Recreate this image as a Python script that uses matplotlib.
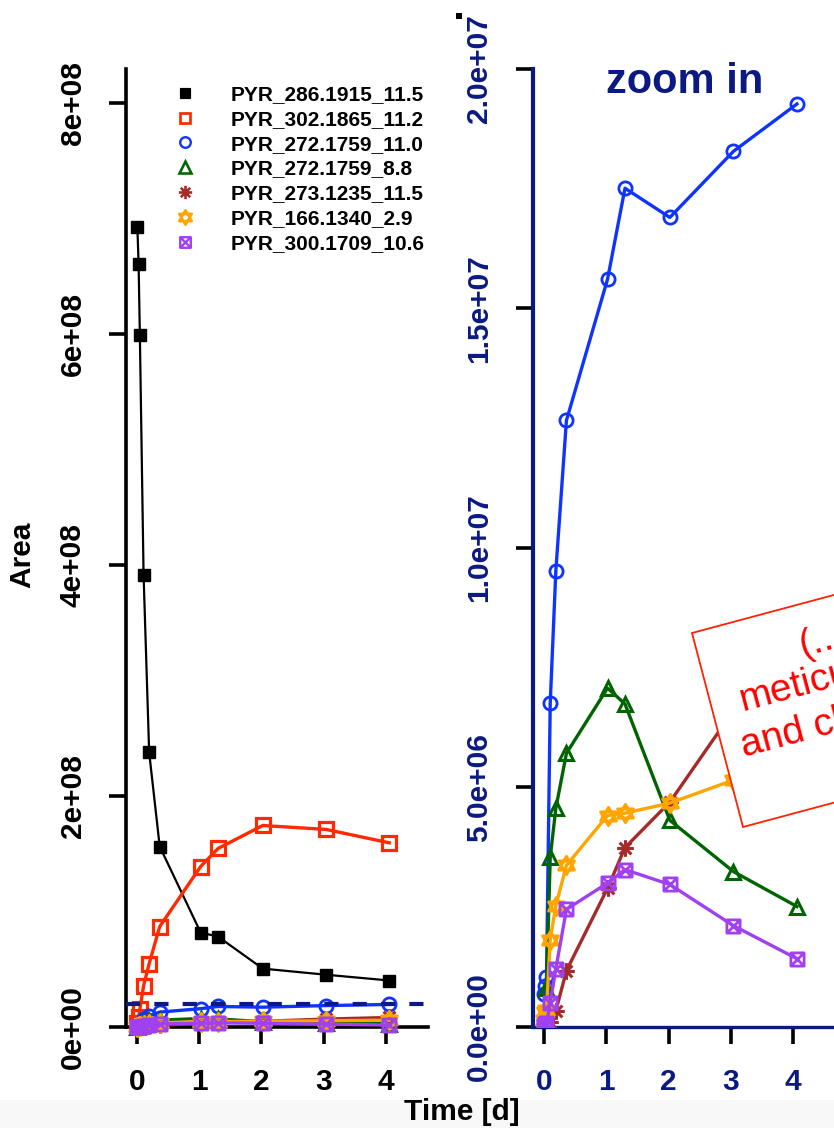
import matplotlib
matplotlib.use('Agg')
import matplotlib.pyplot as plt
from matplotlib.path import Path
from matplotlib.markers import MarkerStyle
from matplotlib.lines import Line2D
from matplotlib.patches import Polygon, Rectangle
from matplotlib.font_manager import FontProperties
import numpy as np

# ---------------- data ----------------
time_d = [0.0, 0.02, 0.04, 0.10, 0.19, 0.36, 1.02, 1.30, 2.02, 3.04, 4.06]

series_names = ["PYR_286.1915_11.5", "PYR_302.1865_11.2", "PYR_272.1759_11.0",
                "PYR_272.1759_8.8", "PYR_273.1235_11.5", "PYR_166.1340_2.9",
                "PYR_300.1709_10.6"]

pyr_286 = [6.92e8, 6.60e8, 5.99e8, 3.91e8, 2.375e8, 1.56e8, 8.15e7, 7.8e7, 5.03e7, 4.5e7, 4.0e7]
pyr_302 = [3.0e6, 8.0e6, 1.5e7, 3.55e7, 5.46e7, 8.67e7, 1.387e8, 1.543e8, 1.742e8, 1.708e8, 1.592e8]
pyr_272a = [0.69e6, 0.85e6, 1.03e6, 6.76e6, 9.52e6, 12.66e6, 15.61e6, 17.51e6, 16.9e6, 18.28e6, 19.27e6]
pyr_272b = [0.05e6, 0.3e6, 0.8e6, 3.54e6, 4.56e6, 5.71e6, 7.07e6, 6.74e6, 4.31e6, 3.24e6, 2.51e6]
pyr_273 = [0.0, 0.02e6, 0.05e6, 0.1e6, 0.33e6, 1.17e6, 2.89e6, 3.74e6, 4.69e6, 6.6e6, 8.0e6]
pyr_166 = [0.15e6, 0.3e6, 0.35e6, 1.82e6, 2.53e6, 3.37e6, 4.41e6, 4.46e6, 4.67e6, 5.15e6, 5.6e6]
pyr_300 = [0.02e6, 0.05e6, 0.07e6, 0.49e6, 1.21e6, 2.45e6, 3.0e6, 3.28e6, 2.97e6, 2.11e6, 1.42e6]

left_yticks = [0, 2e8, 4e8, 6e8, 8e8]
left_yticklabels = ["0e+00", "2e+08", "4e+08", "6e+08", "8e+08"]
right_yticks = [0, 5e6, 1e7, 1.5e7, 2e7]
right_yticklabels = ["0.0e+00", "5.0e+06", "1.0e+07", "1.5e+07", "2.0e+07"]
xticks = [0, 1, 2, 3, 4]
zoom_limit = 2e7

# ---------------- style ----------------
plt.rcParams['font.family'] = ['Liberation Sans Narrow', 'Liberation Sans', 'DejaVu Sans']
plt.rcParams['font.weight'] = 'bold'

NAVY = '#0A1A82'
AXFS = 21.5

def star_david():
    v = [(0, 1), (-0.866, -0.5), (0.866, -0.5), (0, 1),
         (0, -1), (-0.866, 0.5), (0.866, 0.5), (0, -1)]
    c = [Path.MOVETO, Path.LINETO, Path.LINETO, Path.CLOSEPOLY] * 2
    return Path(v, c)

def asterisk():
    v, c = [], []
    for a in [0, 45, 90, 135]:
        r = np.deg2rad(a)
        v += [(np.cos(r), np.sin(r)), (-np.cos(r), -np.sin(r))]
        c += [Path.MOVETO, Path.LINETO]
    return Path(v, c)

def square_x():
    v = [(-1, -1), (1, -1), (1, 1), (-1, 1), (-1, -1),
         (-1, -1), (1, 1), (-1, 1), (1, -1)]
    c = [Path.MOVETO, Path.LINETO, Path.LINETO, Path.LINETO, Path.CLOSEPOLY,
         Path.MOVETO, Path.LINETO, Path.MOVETO, Path.LINETO]
    return Path(v, c)

series = [
    (pyr_286, dict(color='black', marker='s', ms=9, mfc='black', mew=1, lw=1.6)),
    (pyr_302, dict(color='#FF2A00', marker='s', ms=9.5, mfc='none', mew=2.3, lw=2.4)),
    (pyr_272a, dict(color='#1034FF', marker='o', ms=9.5, mfc='none', mew=2.0, lw=2.4)),
    (pyr_272b, dict(color='#006400', marker='^', ms=10.5, mfc='none', mew=2.2, lw=2.4)),
    (pyr_273, dict(color='#A52A2A', marker=MarkerStyle(asterisk()), ms=12, mfc='none', mew=2.2, lw=2.4)),
    (pyr_166, dict(color='#FFA500', marker=MarkerStyle(star_david()), ms=13, mfc='none', mew=2.2, lw=2.4)),
    (pyr_300, dict(color='#A040F0', marker=MarkerStyle(square_x()), ms=9.5, mfc='none', mew=2.0, lw=2.4)),
]

W, H = 834, 1128
fig = plt.figure(figsize=(W / 100, H / 100), dpi=100)

def fx(px):
    return px / W

def fy(py):
    return 1 - py / H

ax_top, ax_bot = 69, 1026.7
# left panel: all series
ax1 = fig.add_axes([fx(125.7), fy(ax_bot), fx(428) - fx(125.7), (ax_bot - ax_top) / H])
# right panel: zoom on the small series (continues beyond the image edge)
ax2 = fig.add_axes([fx(533), fy(ax_bot), fx(900) - fx(533), (ax_bot - ax_top) / H])

for i, (vals, kw) in enumerate(series):
    ax1.plot(time_d, vals, zorder=3 + i, clip_on=False, **kw)
    if i >= 2:
        ax2.plot(time_d, vals, zorder=3 + i, clip_on=True, **kw)

ax1.axhline(zoom_limit, color=NAVY, lw=3.0, ls=(0, (3.4, 3.4)), zorder=15)

ax1.set_xlim(-11.7 / 62.2, (428 - 136.7) / 62.2)
ax1.set_ylim(0, (ax_bot - ax_top) / 115.5 * 1e8)
ax2.set_xlim(-11 / 62.3, (900 - 544) / 62.3)
ax2.set_ylim(0, 2e7)

for ax, spc in [(ax1, 'black'), (ax2, NAVY)]:
    ax.spines['top'].set_visible(False)
    ax.spines['right'].set_visible(False)
    ax.spines['left'].set_color(spc)
    ax.spines['bottom'].set_color(spc)
    ax.spines['left'].set_linewidth(2.6 if ax is ax1 else 3.0)
    ax.spines['bottom'].set_linewidth(2.6 if ax is ax1 else 2.4)
    ax.set_xticks(xticks)
    ax.set_xticklabels([str(t) for t in xticks])
    ax.tick_params(axis='both', which='major', direction='out', length=12.5,
                   width=2.6, color='black', labelsize=AXFS, pad=15)
    ax.set_facecolor('none')

ax1.set_yticks(left_yticks)
ax1.set_yticklabels(left_yticklabels, rotation=90, va='center')
ax2.set_yticks(right_yticks)
ax2.set_yticklabels(right_yticklabels, rotation=90, va='center')
ax1.tick_params(axis='y', pad=15.5)
ax2.tick_params(axis='y', pad=16.5, labelcolor=NAVY)
ax2.tick_params(axis='x', labelcolor=NAVY)
ax1.tick_params(axis='x', pad=17)
ax2.tick_params(axis='x', pad=17)

# legend
handles = []
for vals, kw in series:
    k = dict(kw)
    k.pop('lw')
    k['ms'] = k['ms'] * 0.8
    k['mew'] = k['mew'] * 0.85
    handles.append(Line2D([], [], linestyle='none', **k))
leg = ax1.legend(handles, series_names, loc='upper left',
                 bbox_to_anchor=((175 - 125.7) / (428 - 125.7), (ax_bot - 85) / (ax_bot - ax_top)),
                 frameon=False, borderpad=0, borderaxespad=0, handlelength=1.0,
                 handletextpad=1.65, labelspacing=0.28,
                 prop=FontProperties(family='Liberation Sans', weight='bold', size=15))
leg.set_zorder(20)

# texts
fig.text(fx(685), fy(82), "zoom in", color=NAVY, fontsize=30, fontweight='bold',
         family='Liberation Sans', ha='center', va='center')
fig.text(fx(22), fy(555), "Area", rotation=90, fontsize=AXFS, fontweight='bold',
         ha='center', va='center')

# bottom grey band (screenshot strip)
fig.patches.append(Rectangle((0, 0), 1, 28 / H, transform=fig.transFigure,
                             facecolor='#F8F8F8', edgecolor='none', zorder=0))
fig.text(fx(462), fy(1112), "Time [d]", fontsize=AXFS, fontweight='bold',
         ha='center', va='center', zorder=5)

# small dark mark at top
fig.patches.append(Rectangle((fx(456), fy(19)), 6 / W, 6 / H, transform=fig.transFigure,
                             facecolor='black', edgecolor='none', zorder=5))

# rotated red annotation box (clipped by the image edge, as in the source)
ang = np.deg2rad(15)
ux, uy = np.cos(ang), -np.sin(ang)
TL = (692, 633)
BL = (743, 827)
L = 420
corners = [TL, (TL[0] + L * ux, TL[1] + L * uy), (BL[0] + L * ux, BL[1] + L * uy), BL]
poly = Polygon([(fx(x), fy(y)) for x, y in corners], closed=True, transform=fig.transFigure,
               facecolor='white', edgecolor='#FF2200', lw=1.3, zorder=30)
fig.patches.append(poly)
for (px, py), s in [((803, 656), "(...)"), ((742, 711), "meticulous"), ((744, 757), "and clear")]:
    fig.text(fx(px), fy(py), s, color='#FF0000', fontsize=28, fontweight='normal',
             family='Liberation Sans', rotation=15, rotation_mode='anchor',
             ha='left', va='baseline', zorder=31)

fig.savefig('out.png', dpi=100)
